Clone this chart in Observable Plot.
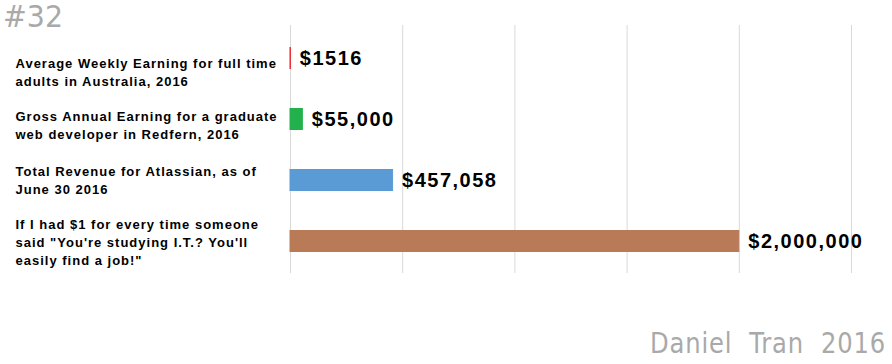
<!DOCTYPE html>
<html>
<head>
<meta charset="utf-8">
<script src="https://cdn.jsdelivr.net/npm/d3@7"></script>
<script src="https://cdn.jsdelivr.net/npm/@observablehq/plot@0.6"></script>
<style>
  html, body { margin: 0; padding: 0; background: #fff; }
  #wrap { position: relative; width: 892px; height: 364px; overflow: hidden; }
  .hand { position: absolute; color: #a9a9a9; font-family: "DejaVu Sans", sans-serif; font-weight: normal; white-space: nowrap; transform-origin: 0 0; line-height: normal; }
  #num { left: 3px; top: -1px; font-size: 30px; }
  #sig { left: 650px; top: 326px; font-size: 29px; word-spacing: 10px; letter-spacing: 1px; }
</style>
</head>
<body>
<div id="wrap">
  <div id="chart"></div>
  <div class="hand" id="num">#32</div>
  <div class="hand" id="sig">Daniel Tran 2016</div>
</div>
<script>
const categories = [
  "Average Weekly Earning for full time\nadults in Australia, 2016",
  "Gross Annual Earning for a graduate\nweb developer in Redfern, 2016",
  "Total Revenue for Atlassian, as of\nJune 30 2016",
  "If I had $1 for every time someone\nsaid \"You're studying I.T.? You'll\neasily find a job!\""
];
const values = [1516, 55000, 457058, 2000000];
const valueLabels = ["$1516", "$55,000", "$457,058", "$2,000,000"];
const colors = ["#ed1c24", "#22b14c", "#5b9bd5", "#b97a57"];
const xTicks = [0, 500000, 1000000, 1500000, 2000000, 2500000];

const data = categories.map((c, i) => ({category: c, value: values[i], label: valueLabels[i], color: colors[i]}));
const labelNudge = [13, 5, -1, 0];

const plot = Plot.plot({
  width: 892,
  height: 364,
  marginLeft: 290,
  marginRight: 41,
  marginTop: 25,
  marginBottom: 91,
  style: {background: "transparent", overflow: "visible"},
  x: {domain: [0, 2500000], axis: null},
  y: {domain: categories, axis: null, paddingInner: 0.645, paddingOuter: 0.3226},
  color: {type: "identity"},
  marks: [
    Plot.gridX(xTicks, {stroke: "#d9d9d9", strokeOpacity: 1, strokeWidth: 1}),
    Plot.barX(data, {x: "value", y: "category", fill: "color", stroke: "color", strokeWidth: 1, insetTop: 0.5, insetBottom: 0.5}),
    Plot.text(data, {x: "value", y: "category", text: "label", textAnchor: "start", dx: 9,
      fontFamily: "Liberation Sans, Arial, sans-serif", fontWeight: "bold", fontSize: 20, fill: "#000"}),
    ...data.map((d, i) => Plot.text([d], {x: 0, y: "category", text: "category", textAnchor: "start", dx: -275, dy: labelNudge[i],
      lineAnchor: "middle", lineHeight: 1.38,
      fontFamily: "Liberation Sans, Arial, sans-serif", fontWeight: "bold", fontSize: 13, fill: "#000"}))
  ]
});
document.getElementById("chart").appendChild(plot);
d3.select(plot).selectAll('g[font-size="20"] text').attr("letter-spacing", "1.5px");
d3.select(plot).selectAll('g[font-size="13"] text').attr("letter-spacing", "1px");

function fitWidth(id, target) {
  const el = document.getElementById(id);
  const w = el.getBoundingClientRect().width;
  el.style.transform = `scaleX(${target / w})`;
}
fitWidth("num", 60);
fitWidth("sig", 236);
</script>
</body>
</html>
